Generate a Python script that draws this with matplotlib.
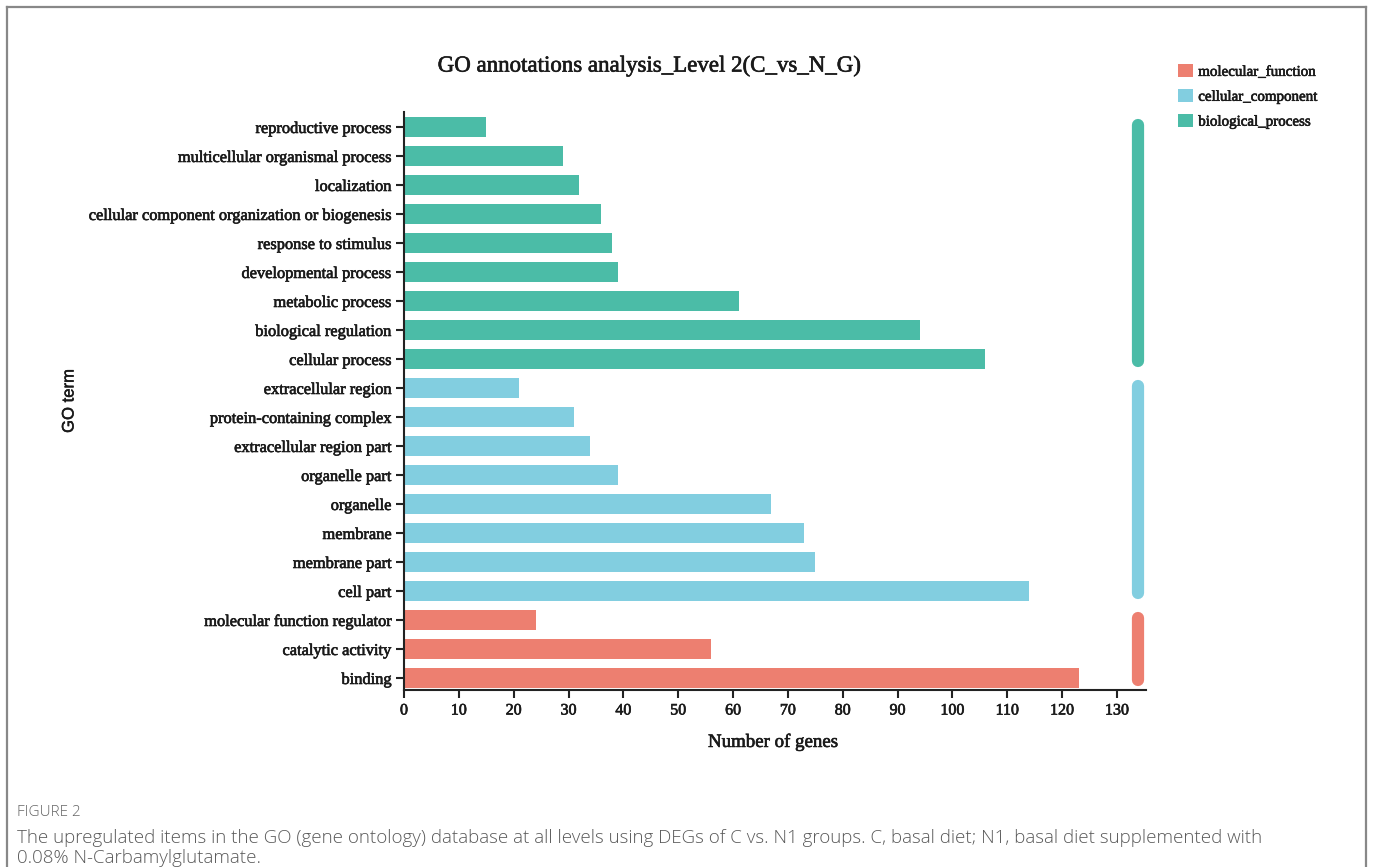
import matplotlib
matplotlib.use("Agg")
import matplotlib.pyplot as plt
from matplotlib.patches import Patch
from matplotlib.lines import Line2D
import matplotlib.patheffects as pe

# ---- data (bottom to top) ----
terms = ["binding", "catalytic activity", "molecular function regulator",
         "cell part", "membrane part", "membrane", "organelle", "organelle part",
         "extracellular region part", "protein-containing complex", "extracellular region",
         "cellular process", "biological regulation", "metabolic process",
         "developmental process", "response to stimulus",
         "cellular component organization or biogenesis", "localization",
         "multicellular organismal process", "reproductive process"]
counts = [123, 56, 24,
          114, 75, 73, 67, 39, 34, 31, 21,
          106, 94, 61, 39, 38, 36, 32, 29, 15]
groups = ["molecular_function"] * 3 + ["cellular_component"] * 8 + ["biological_process"] * 9
group_names = ["molecular_function", "cellular_component", "biological_process"]
group_colors = {"molecular_function": "#ED7F70",
                "cellular_component": "#82CEE0",
                "biological_process": "#4BBCA7"}
xticks = list(range(0, 131, 10))

W, H = 1373, 867
fig = plt.figure(figsize=(W / 100, H / 100), dpi=100)
serif = ["Liberation Serif", "DejaVu Serif"]
TXT = "#1a1a1a"
bold_fx = [pe.withStroke(linewidth=0.45, foreground=TXT)]

ax = fig.add_axes([404 / W, 1 - 690 / H, (1146 - 404) / W, (690 - 112) / H])
ypos = list(range(len(terms)))
ax.barh(ypos, counts, height=0.68, color=[group_colors[g] for g in groups])

# group indicator bars on the right
for g in group_names:
    idx = [i for i, gg in enumerate(groups) if gg == g]
    ax.plot([133.8, 133.8], [min(idx) - 0.07, max(idx) + 0.07], color=group_colors[g],
            lw=8.8, solid_capstyle="round", clip_on=False)

ax.set_xlim(0, 135.3)
ax.set_ylim(-0.414, 19.517)
ax.set_yticks(ypos)
ax.set_yticklabels(terms, family=serif, fontsize=11.8, color=TXT)
ax.set_xticks(xticks)
ax.set_xticklabels([str(t) for t in xticks], family=serif, fontsize=11.5, color=TXT)
for lab in ax.get_yticklabels() + ax.get_xticklabels():
    lab.set_path_effects(bold_fx)
for s in ["top", "right"]:
    ax.spines[s].set_visible(False)
for s in ["left", "bottom"]:
    ax.spines[s].set_linewidth(1.5)
    ax.spines[s].set_color("#222222")
ax.tick_params(axis="y", length=6, width=1.5, color="#222222", pad=3)
ax.tick_params(axis="x", length=6, width=1.5, color="#222222", pad=3)

fig.text(649 / W, 1 - 66 / H, "GO annotations analysis_Level 2(C_vs_N_G)",
         family=serif, fontsize=16.5, ha="center", va="center", color=TXT,
         path_effects=bold_fx)
fig.text(773 / W, 1 - 742 / H, "Number of genes", family=serif, fontsize=13.6,
         ha="center", va="center", color=TXT, path_effects=bold_fx)
fig.text(69 / W, 1 - 401 / H, "GO term", family=["Liberation Sans", "DejaVu Sans"],
         fontsize=12, rotation=90, ha="center", va="center", color=TXT,
         path_effects=[pe.withStroke(linewidth=0.35, foreground=TXT)])

handles = [Patch(facecolor=group_colors[g], edgecolor="none") for g in group_names]
leg = fig.legend(handles, group_names, loc="upper left", bbox_to_anchor=(1178 / W, 1 - 64 / H),
                 frameon=False, prop={"family": serif, "size": 10.8}, handlelength=1.0,
                 handleheight=1.0, labelspacing=0.67, handletextpad=0.35, borderaxespad=0,
                 borderpad=0)
for t in leg.get_texts():
    t.set_color(TXT)
    t.set_path_effects(bold_fx)

# caption
cap_font = ["Open Sans", "DejaVu Sans"]
fig.text(17 / W, 1 - 813 / H, "FIGURE 2", family=cap_font, fontsize=11, color="#666666",
         va="center", ha="left", fontweight="light")
fig.text(17 / W, 1 - 838 / H,
         "The upregulated items in the GO (gene ontology) database at all levels using DEGs of C vs. N1 groups. C, basal diet; N1, basal diet supplemented with",
         family=cap_font, fontsize=13.5, color="#5a5a5a", va="center", ha="left",
         fontweight="light")
fig.text(17 / W, 1 - 858 / H, "0.08% N-Carbamylglutamate.", family=cap_font, fontsize=13.5,
         color="#5a5a5a", va="center", ha="left", fontweight="light")

# outer frame
fc = "#888888"
fig.add_artist(Line2D([7 / W, 7 / W], [0, 1 - 7 / H], color=fc, lw=1.6, transform=fig.transFigure))
fig.add_artist(Line2D([7 / W, 1366 / W], [1 - 7 / H, 1 - 7 / H], color=fc, lw=1.6, transform=fig.transFigure))
fig.add_artist(Line2D([1366 / W, 1366 / W], [0, 1 - 7 / H], color=fc, lw=1.6, transform=fig.transFigure))

fig.savefig("out.png", dpi=100)
